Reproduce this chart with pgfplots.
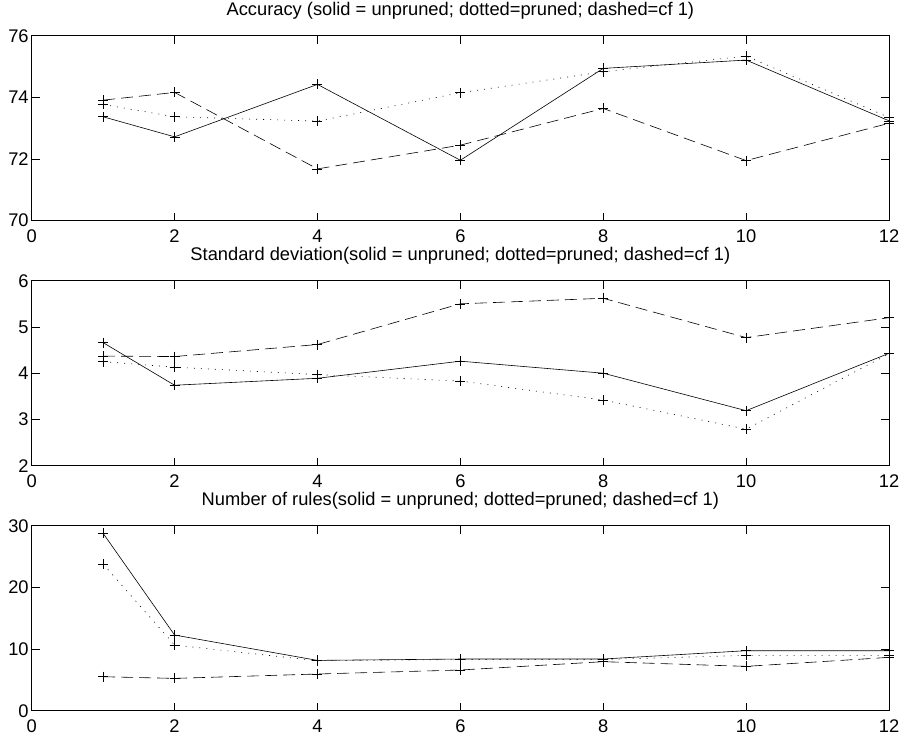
\documentclass[border=0pt]{standalone}
\usepackage{fontspec}
\setmainfont{Liberation Sans}
\usepackage{pgfplots}
\pgfplotsset{compat=1.18}
\begin{document}
\begin{tikzpicture}
\useasboundingbox (-31.7pt,-517.3pt) rectangle (875.3pt,220.7pt);
\pgfplotsset{
 every axis/.append style={
  scale only axis, width=857.3pt, height=185pt,
  xmin=0, xmax=12, xtick={0,2,...,12},
  tick align=inside, major tick length=8pt,
  every tick/.style={black, line width=0.6pt},
  axis line style={line width=1pt},
  font=\fontsize{18.3}{22}\selectfont,
  /pgf/number format/assume math mode=true,
  xticklabel style={yshift=-5.5pt},
  yticklabel style={xshift=0.5pt},
  title style={anchor=base, at={(0.5,1)}, yshift=14pt, inner sep=0pt},
  clip=false,
 },
 every axis plot/.append style={black, line width=0.6pt, mark=+, mark size=5pt, mark options={solid, line width=0.6pt}},
 sl/.style={solid},
 dl/.style={dash pattern=on 1pt off 6pt},
 ddl/.style={dash pattern=on 12pt off 6pt},
}
\begin{axis}[at={(0,0)}, ymin=70, ymax=76, ytick={70,72,74,76},
  title={Accuracy (solid = unpruned; dotted=pruned; dashed=cf 1)}]
\addplot[sl] coordinates {(1,73.37)(2,72.72)(4,74.42)(6,71.96)(8,74.94)(10,75.21)(12,73.24)};
\addplot[dl] coordinates {(1,73.77)(2,73.37)(4,73.23)(6,74.15)(8,74.83)(10,75.34)(12,73.35)};
\addplot[ddl] coordinates {(1,73.91)(2,74.16)(4,71.68)(6,72.45)(8,73.64)(10,71.95)(12,73.16)};
\end{axis}
\begin{axis}[at={(0,-245pt)}, ymin=2, ymax=6, ytick={2,3,4,5,6},
  title={Standard deviation(solid = unpruned; dotted=pruned; dashed=cf 1)}]
\addplot[sl] coordinates {(1,4.66)(2,3.74)(4,3.89)(6,4.26)(8,4.00)(10,3.19)(12,4.43)};
\addplot[dl] coordinates {(1,4.25)(2,4.13)(4,3.97)(6,3.83)(8,3.42)(10,2.79)(12,4.42)};
\addplot[ddl] coordinates {(1,4.37)(2,4.36)(4,4.62)(6,5.50)(8,5.62)(10,4.77)(12,5.20)};
\end{axis}
\begin{axis}[at={(0,-490pt)}, ymin=0, ymax=30, ytick={0,10,20,30},
  title={Number of rules(solid = unpruned; dotted=pruned; dashed=cf 1)}]
\addplot[sl] coordinates {(1,28.76)(2,12.27)(4,8.16)(6,8.38)(8,8.38)(10,9.73)(12,9.73)};
\addplot[dl] coordinates {(1,23.78)(2,10.65)(4,8.10)(6,8.30)(8,8.30)(10,8.97)(12,8.97)};
\addplot[ddl] coordinates {(1,5.51)(2,5.24)(4,5.95)(6,6.60)(8,7.95)(10,7.19)(12,8.65)};
\end{axis}
\end{tikzpicture}
\end{document}
